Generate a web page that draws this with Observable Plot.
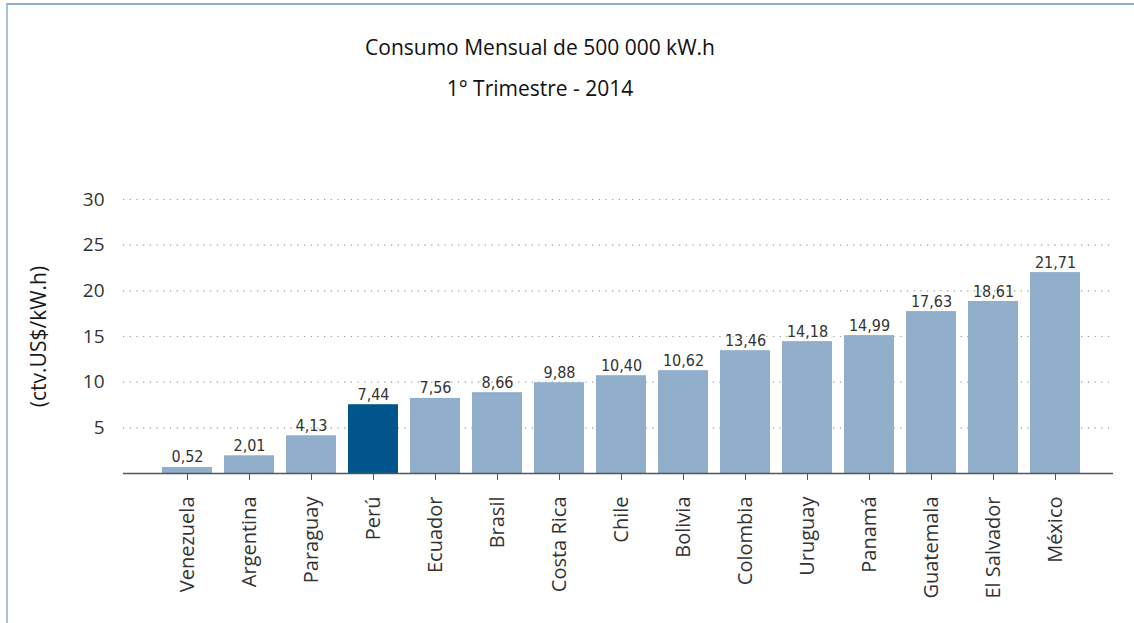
<!DOCTYPE html>
<html>
<head>
<meta charset="utf-8">
<script src="https://cdn.jsdelivr.net/npm/d3@7"></script>
<script src="https://cdn.jsdelivr.net/npm/@observablehq/plot@0.6"></script>
<style>
  html, body { margin: 0; padding: 0; background: #fff; }
  #wrap { position: relative; width: 1134px; height: 623px; overflow: hidden; }
  #frame { position: absolute; z-index: 10; left: 6px; top: 3px; width: 1140px; height: 640px;
           border-left: 2px solid #a6c1da; border-top: 2px solid #8cafcf; box-sizing: border-box; pointer-events: none; }
  #head { position: relative; height: 120px; font-family: "Open Sans", sans-serif; color: #111; }
  .t1 { position: absolute; left: 0; width: 1080px; text-align: center; top: 33px; font-size: 21px; line-height: 28px; }
  .t2 { position: absolute; left: 0; width: 1080px; text-align: center; top: 74px; font-size: 21px; line-height: 28px; }
  #chart svg { display: block; }
</style>
</head>
<body>
<div id="wrap">
  <div id="frame"></div>
  <div id="head">
    <div class="t1">Consumo Mensual de 500 000 kW.h</div>
    <div class="t2">1° Trimestre - 2014</div>
  </div>
  <div id="chart"></div>
</div>
<script>
const countries = ["Venezuela","Argentina","Paraguay","Perú","Ecuador","Brasil","Costa Rica","Chile","Bolivia","Colombia","Uruguay","Panamá","Guatemala","El Salvador","México"];
// bar heights as drawn in the picture
const heights = [0.66, 1.94, 4.13, 7.53, 8.22, 8.85, 9.94, 10.71, 11.26, 13.45, 14.44, 15.10, 17.73, 18.83, 22.00];
// value labels as printed
const valueLabels = ["0,52","2,01","4,13","7,44","7,56","8,66","9,88","10,40","10,62","13,46","14,18","14,99","17,63","18,61","21,71"];
const highlight = "Perú";
const yTicks = [5, 10, 15, 20, 25, 30];
const yTitle = "(ctv.US$/kW.h)";

const data = countries.map((c, i) => ({country: c, h: heights[i], label: valueLabels[i]}));

const chart = Plot.plot({
  width: 1134,
  height: 503,
  marginTop: 79,
  marginBottom: 150,
  marginLeft: 123,
  marginRight: 21,
  style: {fontFamily: "'Open Sans', sans-serif", background: "transparent"},
  x: {domain: countries, paddingInner: 0.19, paddingOuter: 0.555, align: 0.54},
  y: {domain: [0, 30]},
  marks: [
    Plot.ruleY(yTicks, {stroke: "#999", strokeWidth: 1.2, strokeDasharray: "1.2,5.5"}),
    Plot.barY(data, {x: "country", y: "h", fill: d => d.country === highlight ? "#00568c" : "#91afcb"}),
    Plot.text(data, {x: "country", y: "h", text: "label", dy: -5, lineAnchor: "bottom",
      fontSize: 16, fill: "#333", fontFamily: "'Liberation Sans Narrow', 'DejaVu Sans Condensed', sans-serif"}),
    Plot.ruleY([0], {stroke: "#555", strokeWidth: 1.5}),
    Plot.axisY({ticks: yTicks, tickSize: 0, tickPadding: 19, fontSize: 19, color: "#333", label: null}),
    Plot.axisY({ticks: [], tickSize: 0, fontSize: 21, color: "#1a1a1a",
      label: yTitle, labelAnchor: "center", labelArrow: "none", labelOffset: 92}),
    Plot.axisX({tickSize: 7, tickPadding: 16, tickRotate: -90, fontSize: 20, color: "#333",
      stroke: "#555", label: null})
  ]
});
document.getElementById("chart").appendChild(chart);
</script>
</body>
</html>
